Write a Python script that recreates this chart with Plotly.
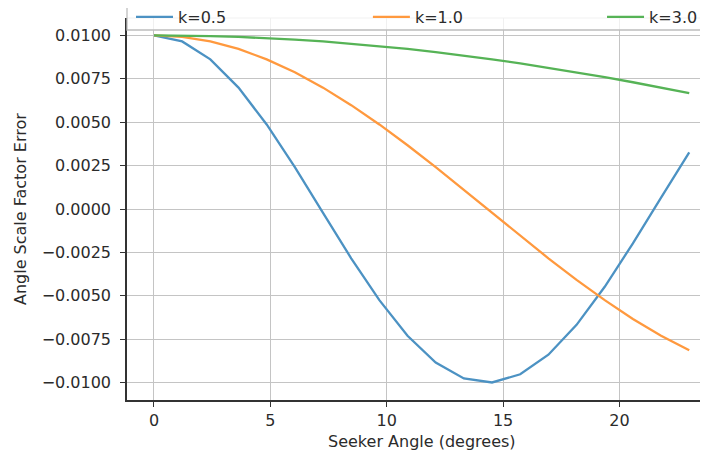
import plotly.graph_objects as go

# Seeker angle samples (degrees)
angle_deg = [0.0, 1.2105, 2.4211, 3.6316, 4.8421, 6.0526, 7.2632, 8.4737, 9.6842, 10.8947,
             12.1053, 13.3158, 14.5263, 15.7368, 16.9474, 18.1579, 19.3684, 20.5789, 21.7895, 23.0]

err_k05 = [0.0100, 0.00965, 0.00862, 0.00699, 0.00487, 0.00241, -0.00022, -0.00284, -0.00525, -0.00730,
           -0.00884, -0.00976, -0.00999, -0.00952, -0.00839, -0.00667, -0.00448, -0.00198, 0.00066, 0.00326]
err_k10 = [0.0100, 0.00991, 0.00965, 0.00922, 0.00862, 0.00788, 0.00699, 0.00598, 0.00487, 0.00367,
           0.00241, 0.00110, -0.00022, -0.00154, -0.00284, -0.00408, -0.00525, -0.00633, -0.00730, -0.00814]
err_k30 = [0.0100, 0.00999, 0.00996, 0.00991, 0.00984, 0.00976, 0.00965, 0.00952, 0.00938, 0.00922,
           0.00904, 0.00884, 0.00862, 0.00839, 0.00814, 0.00788, 0.00760, 0.00730, 0.00699, 0.00667]

series_names = ["k=0.5", "k=1.0", "k=3.0"]
series_colors = ["#4c92c3", "#ff993e", "#56b356"]
legend_ids = ["legend", "legend2", "legend3"]
legend_x = [0.0068, 0.409, 0.8065]

x_ticks = [0, 5, 10, 15, 20]
y_ticks = [0.0100, 0.0075, 0.0050, 0.0025, 0.0, -0.0025, -0.0050, -0.0075, -0.0100]
y_tick_labels = ["0.0100", "0.0075", "0.0050", "0.0025", "0.0000",
                 "\u22120.0025", "\u22120.0050", "\u22120.0075", "\u22120.0100"]

FONT = "DejaVu Sans"
TXT = "#2b2b2b"

fig = go.Figure()
for name, ys, col, lg in zip(series_names, [err_k05, err_k10, err_k30], series_colors, legend_ids):
    fig.add_trace(go.Scatter(x=angle_deg, y=ys, mode="lines", name=name, legend=lg,
                             line=dict(color=col, width=2.3)))

legend_common = dict(orientation="h", xanchor="left", y=1.0026, yanchor="middle",
                     bgcolor="rgba(0,0,0,0)", borderwidth=0, itemwidth=37,
                     font=dict(family=FONT, size=16, color=TXT))

fig.update_layout(
    width=708, height=461,
    margin=dict(l=119, r=0, t=10, b=69, autoexpand=False),
    paper_bgcolor="white", plot_bgcolor="white",
    font=dict(family=FONT, size=16, color=TXT),
    showlegend=True,
    legend=dict(x=legend_x[0], **legend_common),
    legend2=dict(x=legend_x[1], **legend_common),
    legend3=dict(x=legend_x[2], **legend_common),
    xaxis=dict(range=[-1.16, 24.15], tickvals=x_ticks, showgrid=True, gridcolor="#c4c4c4",
               gridwidth=1.2, zeroline=False, showline=True, linecolor="#333333", linewidth=1.5,
               ticks="outside", ticklen=5, tickwidth=1.2, tickcolor="#333333",
               tickfont=dict(family=FONT, size=16, color=TXT)),
    yaxis=dict(range=[-0.011, 0.011], tickvals=y_ticks, ticktext=y_tick_labels, showgrid=True,
               gridcolor="#c4c4c4", gridwidth=1.2, zeroline=False, showline=True,
               linecolor="#333333", linewidth=1.5, ticks="outside", ticklen=5, tickwidth=1.2,
               tickcolor="#333333", ticklabelstandoff=6,
               tickfont=dict(family=FONT, size=16, color=TXT)),
    shapes=[
        dict(type="line", xref="paper", yref="paper", x0=0, x1=1, y0=1, y1=1,
             line=dict(color="#c4c4c4", width=1.2), layer="below"),
        dict(type="rect", xref="paper", yref="paper", x0=0, x1=1.02, y0=0.9686, y1=1.04,
             fillcolor="rgba(255,255,255,0.75)", line=dict(color="#bdbdbd", width=1.3),
             layer="above"),
    ],
    annotations=[
        dict(text="Seeker Angle (degrees)", xref="paper", yref="paper", x=0.5, y=0,
             xanchor="center", yanchor="middle", yshift=-41, showarrow=False,
             font=dict(family=FONT, size=16, color=TXT)),
        dict(text="Angle Scale Factor Error", xref="paper", yref="paper", x=0, y=0.5,
             xanchor="center", yanchor="middle", xshift=-107, textangle=-90, showarrow=False,
             font=dict(family=FONT, size=16, color=TXT)),
    ],
)

fig.write_html("out.html")
